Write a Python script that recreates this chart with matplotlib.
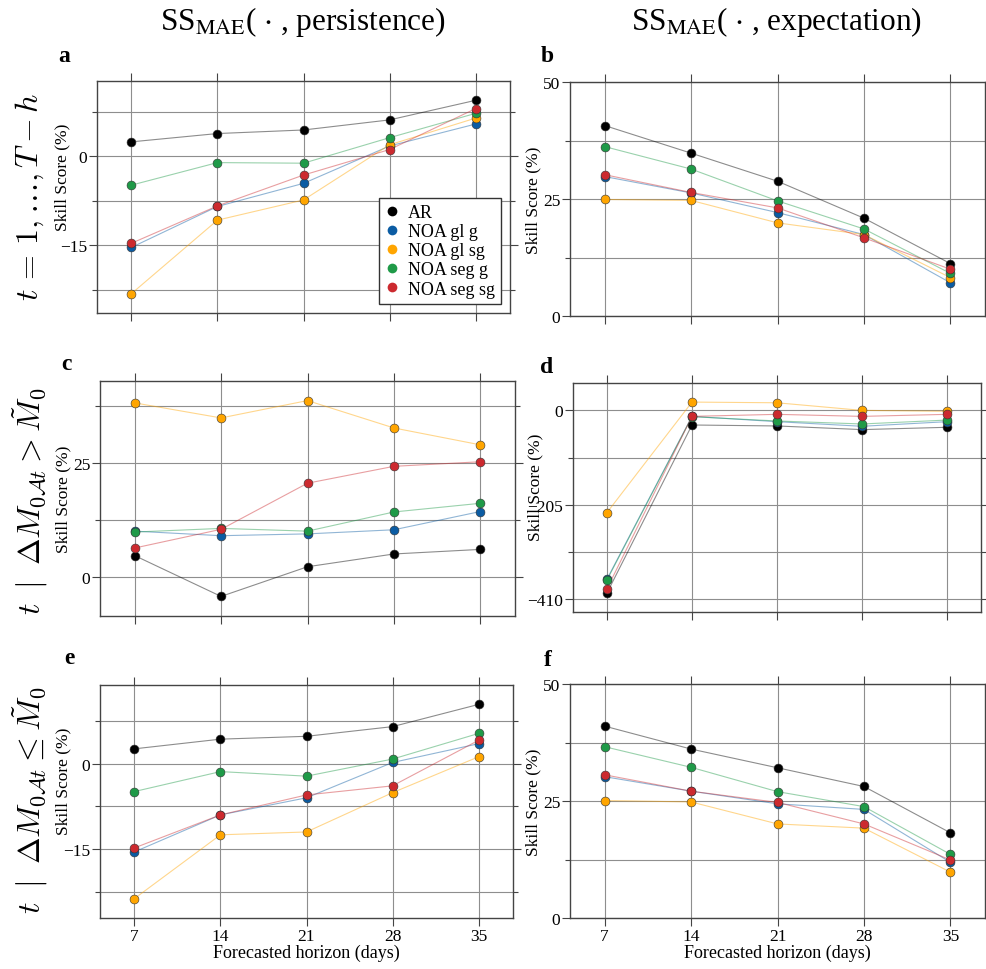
import matplotlib
matplotlib.use("Agg")
import matplotlib.pyplot as plt
from matplotlib.ticker import MultipleLocator, NullFormatter
from matplotlib.lines import Line2D

plt.rcParams["font.family"] = ["Liberation Serif", "DejaVu Serif"]
plt.rcParams["mathtext.fontset"] = "stix"

# Forecast horizons (days) and model names
horizons = [7, 14, 21, 28, 35]
models = ["AR", "NOA gl g", "NOA gl sg", "NOA seg g", "NOA seg sg"]
colors = ["#000000", "#0b5ca3", "#ffa500", "#1f9a48", "#cc2a2f"]

# Skill scores (%) per model, order: AR, gl g, gl sg, seg g, seg sg
# Row 1: all t; column 1: vs persistence, column 2: vs expectation
pers_all = [
    [2.4, 3.8, 4.4, 6.1, 9.4],
    [-15.4, -8.5, -4.6, 1.7, 5.4],
    [-23.2, -10.8, -7.4, 1.9, 6.4],
    [-4.9, -1.1, -1.2, 3.1, 7.2],
    [-14.7, -8.4, -3.2, 1.1, 8.0],
]
expe_all = [
    [40.7, 34.8, 28.8, 20.9, 11.2],
    [29.8, 26.3, 22.1, 17.4, 7.1],
    [24.9, 24.7, 19.9, 17.4, 8.2],
    [36.2, 31.4, 24.6, 18.6, 9.1],
    [30.2, 26.4, 23.1, 16.7, 10.0],
]
# Row 2: large mass change
pers_gt = [
    [4.75, -4.2, 2.3, 5.1, 6.1],
    [10.1, 9.1, 9.5, 10.4, 14.4],
    [38.2, 34.9, 38.7, 32.7, 29.0],
    [9.9, 10.7, 10.1, 14.3, 16.2],
    [6.4, 10.5, 20.6, 24.3, 25.3],
]
expe_gt = [
    [-396, -31.7, -33.8, -41.7, -36.7],
    [-366, -13, -24.5, -34.5, -24.5],
    [-221.6, 18, 16.5, 0, -2],
    [-368, -13.7, -23, -29.5, -21],
    [-387, -13, -8.6, -13, -8.6],
]
# Row 3: small mass change
pers_le = [
    [2.6, 4.3, 4.8, 6.5, 10.4],
    [-15.5, -9.0, -6.0, 0.2, 3.5],
    [-23.7, -12.5, -12.0, -5.1, 1.2],
    [-4.9, -1.4, -2.2, 0.8, 5.3],
    [-14.8, -9.0, -5.5, -3.9, 4.1],
]
expe_le = [
    [41.0, 36.1, 32.1, 28.1, 18.2],
    [30.2, 27.1, 24.4, 23.2, 11.9],
    [25.1, 24.8, 20.1, 19.2, 9.8],
    [36.6, 32.2, 27.0, 23.8, 13.6],
    [30.6, 27.1, 24.7, 20.1, 12.4],
]

col_titles = [r"SS$_{\mathrm{MAE}}$( $\cdot$ , persistence)",
              r"SS$_{\mathrm{MAE}}$( $\cdot$ , expectation)"]
row_titles = [r"$t\,=\,1,\ldots,T-h$",
              r"$t\ \mid\ \Delta M_{0\mathcal{A}t} > \tilde{M}_0$",
              r"$t\ \mid\ \Delta M_{0\mathcal{A}t} \leq \tilde{M}_0$"]

W, H = 987, 970
fig = plt.figure(figsize=(W / 100, H / 100), dpi=100)


def rect(l, r, t, b):
    return [l / W, 1 - b / H, (r - l) / W, (b - t) / H]


panels = [
    # data, rect(px), letter, y-step, fixed ylim, ylabel (x, y) in axes coords, letter pos
    (pers_all, rect(97, 510, 82, 314), "a", 15, None, (-0.085, 0.59), (64, 57)),
    (expe_all, rect(570, 985, 83, 317), "b", 25, (0, 50), (-0.089, 0.50), (547, 57)),
    (pers_gt, rect(100, 515, 382, 617), "c", 25, None, (-0.088, 0.50), (66, 365)),
    (expe_gt, rect(573, 981, 384, 613), "d", 205, None, (-0.093, 0.55), (547, 368)),
    (pers_le, rect(100, 513, 686, 919), "e", 15, None, (-0.089, 0.59), (69, 658)),
    (expe_le, rect(570, 985, 685, 919), "f", 25, (0, 50), (-0.089, 0.50), (548, 660)),
]

grid_kw = dict(color="#8e8e8e", linewidth=0.8)
axes = []
for i, (data, r, letter, step, ylim, lab_xy, let_xy) in enumerate(panels):
    ax = fig.add_axes(r)
    axes.append(ax)
    for vals, c in zip(data, colors):
        ax.plot(horizons, vals, color=c, lw=0.8, alpha=0.45, zorder=3)
        ax.plot(horizons, vals, ls="none", marker="o", ms=6.4, mfc=c,
                mec="#333333", mew=0.4, zorder=4)
    ax.margins(x=0.1, y=0.1)
    if ylim is not None:
        ax.set_ylim(*ylim)
    ax.set_xticks(horizons)
    ax.yaxis.set_major_locator(MultipleLocator(step))
    ax.yaxis.set_minor_locator(MultipleLocator(step / 2))
    ax.yaxis.set_minor_formatter(NullFormatter())
    ax.grid(True, which="both", axis="y", **grid_kw)
    ax.grid(True, which="major", axis="x", **grid_kw)
    ax.set_axisbelow(True)
    ax.tick_params(which="major", direction="out", length=6, width=0.8,
                   color="#444444", top=True, right=True, labelsize=12.5, pad=1)
    ax.tick_params(which="minor", direction="out", length=3.5, width=0.8,
                   color="#444444", left=True, right=True)
    for s in ax.spines.values():
        s.set_color("#444444")
        s.set_linewidth(1.0)
    if i < 4:
        ax.tick_params(axis="x", labelbottom=False)
    else:
        ax.set_xlabel("Forecasted horizon (days)", fontsize=13, labelpad=0)
    ax.set_ylabel("Skill Score (%)", fontsize=12.5, va="center")
    ax.yaxis.set_label_coords(*lab_xy)
    fig.text(let_xy[0] / W, 1 - let_xy[1] / H, letter, fontsize=17,
             fontweight="bold", ha="center", va="center")

# Legend with plain markers
handles = [Line2D([], [], ls="none", marker="o", ms=7, mfc=c, mec=c, mew=0)
           for c in colors]
leg = axes[0].legend(handles, models, loc="lower right", fontsize=13,
                     frameon=True, fancybox=False, edgecolor="#333333",
                     framealpha=1, handlelength=0.8, handletextpad=0.45,
                     labelspacing=0.12, borderpad=0.35, borderaxespad=0.5)
leg.get_frame().set_linewidth(1.0)

# Column and row headings
fig.text(303 / W, 1 - 22 / H, col_titles[0], fontsize=22.5, ha="center", va="center")
fig.text(777 / W, 1 - 22 / H, col_titles[1], fontsize=22.5, ha="center", va="center")
for y, t in zip([197, 501, 800], row_titles):
    fig.text(30 / W, 1 - y / H, t, fontsize=23, rotation=90, ha="center",
             va="center", math_fontfamily="cm")

fig.savefig("out.png", dpi=100)
